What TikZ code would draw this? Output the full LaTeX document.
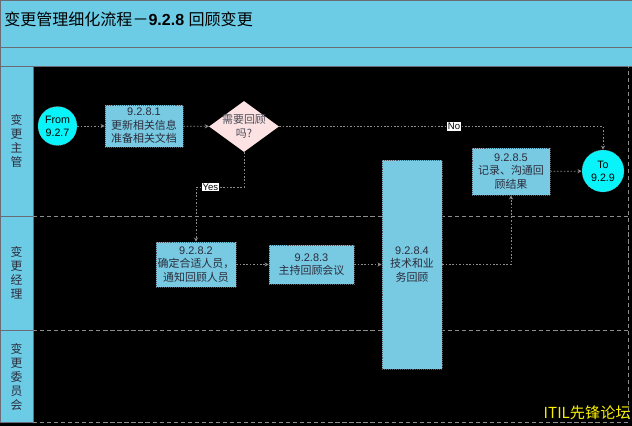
\documentclass[tikz,border=0pt]{standalone}
\usepackage{fontspec}
\setmainfont{Liberation Sans}
\newfontfamily\cjk{Noto Sans CJK SC}
\usetikzlibrary{shapes.geometric,arrows.meta}
\definecolor{vizLane}{HTML}{6CCCE6}
\definecolor{vizBox}{HTML}{78CAE2}
\definecolor{vizTerm}{HTML}{08F4FA}
\definecolor{vizDecide}{HTML}{FCE2E2}
\definecolor{vizLine}{HTML}{8C8C8C}
\definecolor{vizText}{HTML}{2C2C3C}
\definecolor{vizMark}{HTML}{F8F000}

\begin{document}
\begin{tikzpicture}[x=0.025cm, y=-0.025cm,
  taskbox/.style={rectangle, fill=vizBox, draw=vizText!80, densely dotted,
    text=vizText, align=center, inner sep=0pt,
    font=\fontsize{7.8}{9.6}\selectfont},
  term/.style={circle, fill=vizTerm, draw=vizLine, densely dotted, inner sep=0pt,
    text=black, align=center, font=\fontsize{7.6}{9.4}\selectfont},
  lanename/.style={align=center, text=vizText, font=\cjk\fontsize{8.4}{10}\selectfont},
  flow/.style={draw=vizLine, line width=0.5pt, dash pattern=on 1.2pt off 1.2pt,
    -{Stealth[length=3pt,width=3pt]}},
  tag/.style={fill=white, text=black, inner sep=0.6pt, font=\fontsize{6.8}{7}\selectfont}]
  \useasboundingbox (0,0) rectangle (632,426);
  % background and bands
  \fill[black] (0,0) rectangle (632,426);
  \filldraw[fill=vizLane, draw=vizText!70] (0,0) rectangle (632,47);
  \filldraw[fill=vizLane, draw=vizText!70] (0,47) rectangle (632,66);
  \filldraw[fill=vizLane, draw=vizText!70] (0,66) rectangle (33,422);
  \draw[vizText!70] (0,216) -- (33,216);
  \draw[vizText!70] (0,330) -- (33,330);
  \draw[vizLine, densely dashed] (33,216) -- (628,216);
  \draw[vizLine, densely dashed] (33,330) -- (628,330);
  \draw[vizLine, densely dashed] (33,422) -- (628,422) -- (628,66);
  \node[anchor=west, text=black, inner sep=0pt, font=\fontsize{11.4}{13}\selectfont]
    (title) at (4,19.5) {{\cjk 变更管理细化流程－}\textbf{9.2.8} {\cjk 回顾变更}};

  % lanes
  \node[lanename] (lane1) at (16.5,141) {变\\更\\主\\管};
  \node[lanename] (lane2) at (16.5,273) {变\\更\\经\\理};
  \node[lanename] (lane3) at (16.5,377) {变\\更\\委\\员\\会};

  % steps
  \node[term, minimum size=0.975cm] (from) at (57.5,126) {From\\9.2.7};
  \node[taskbox, minimum width=1.95cm, minimum height=1.05cm] (t1) at (144,126)
    {9.2.8.1\\{\cjk 更新相关信息}\\{\cjk 准备相关文档}};
  \node[diamond, fill=vizDecide, draw=none, inner sep=0pt, minimum width=1.75cm,
    minimum height=1.275cm, label={[text=vizText!85, align=center,
    font=\cjk\fontsize{7.8}{9.6}\selectfont]center:需要回顾\\吗?}] (ask) at (244,126.5) {};
  \node[taskbox, minimum width=2cm, minimum height=1.125cm] (t2) at (196,264.5)
    {9.2.8.2\\{\cjk 确定合适人员，}\\{\cjk 通知回顾人员}};
  \node[taskbox, minimum width=2.125cm, minimum height=0.975cm] (t3) at (311.5,264.5)
    {9.2.8.3\\{\cjk 主持回顾会议}};
  \node[taskbox, minimum width=1.5cm, minimum height=5.225cm] (t4) at (412,264.5)
    {9.2.8.4\\{\cjk 技术和业}\\{\cjk 务回顾}};
  \node[taskbox, minimum width=1.95cm, minimum height=1.175cm] (t5) at (511,171.5)
    {9.2.8.5\\{\cjk 记录、沟通回}\\{\cjk 顾结果}};
  \node[term, minimum size=1.05cm] (to) at (603,171) {To\\9.2.9};

  % connectors
  \draw[flow] (from) -- (t1);
  \draw[flow] (t1) -- (ask);
  \draw[flow] (ask.east) -| node[tag, pos=0.27] {No} (to.north);
  \draw[flow] (ask.south) -- ++(0,35) -| node[tag, pos=0.35] {Yes} (t2.north);
  \draw[flow] (t2) -- (t3);
  \draw[flow] (t3) -- (t4.west |- t3.east);
  \draw[flow] (t4.east) -| (t5.south);
  \draw[flow] (t5) -- (to);

  \node[anchor=east, inner sep=0pt, text=vizMark, font=\cjk\fontsize{10.8}{12}\selectfont]
    (mark) at (631,413) {ITIL先锋论坛};
\end{tikzpicture}
\end{document}
